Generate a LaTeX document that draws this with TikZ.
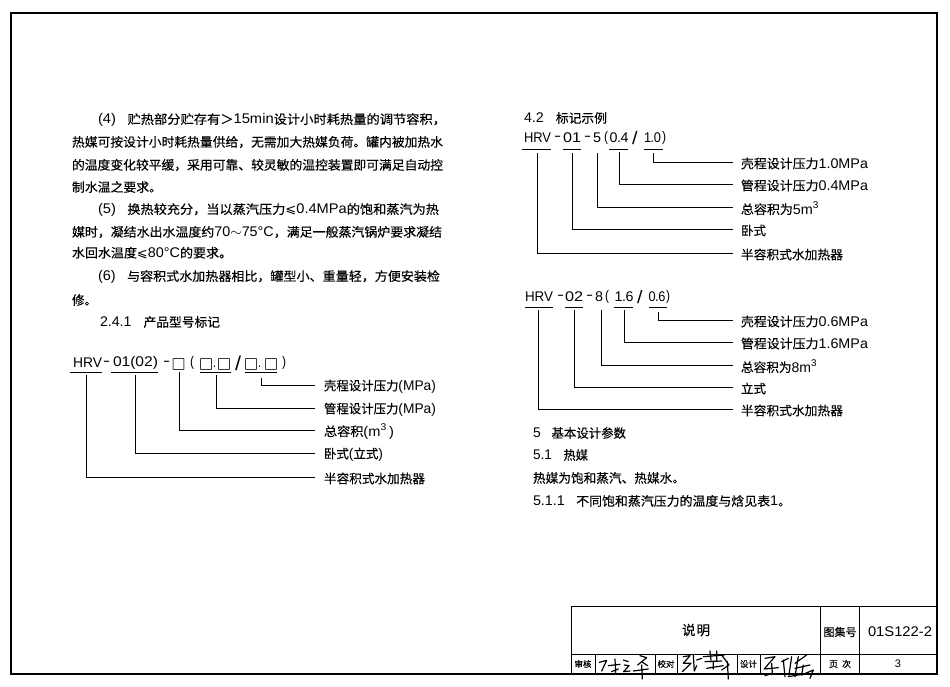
\documentclass[tikz,border=0pt]{standalone}
\usepackage{fontspec}
\setmainfont{Noto Sans CJK SC}[FakeBold=0.25]
\newfontfamily\la{Liberation Sans}
\newfontfamily\symf{DejaVu Sans}
\newcommand\lat[1]{{\fontsize{14}{14}\selectfont\la #1}}
\newcommand\slashbig[1]{{\fontsize{#1}{#1}\selectfont\la /}}
\newcommand\dnum[2]{\lat{#1\kern-0.4pt.\kern-0.4pt#2}}
\newcommand\lesq{{\symf ⩽}}
\newcommand\tl[5]{\node[txt] (#1) at (#2,#3) {\resizebox{#4pt}{\height}{#5}};}
\newcommand\lead[3]{\draw[conn] (#1) |- ([xshift=-#3pt,yshift=1.5pt]#2.west);}
\tikzset{
  txt/.style={anchor=west,inner sep=0pt,outer sep=0pt,font=\fontsize{12.6}{14}\selectfont,text=black},
  conn/.style={draw=black,line width=0.8pt},
  uline/.style={draw=black,line width=0.8pt},
  frame/.style={draw=black,line width=1.8pt},
  cell/.style={draw=black,line width=0.9pt},
  sig/.style={draw=black,line width=1.2pt,line cap=round,line join=round},
  box/.style={anchor=center,inner sep=0pt,font=\fontsize{14}{14}\selectfont}
}
\begin{document}
\begin{tikzpicture}[x=1pt,y=-1pt]
\path[use as bounding box,fill=white] (0,0) rectangle (950,687);
% page frame
\draw[frame] (11,13) rectangle (937,674);
% left text
\tl{p1}{98}{120}{348}{\lat{(4)}\hspace{11pt}贮热部分贮存有＞\lat{15min}设计小时耗热量的调节容积，}
\tl{p2}{72}{142}{371}{热媒可按设计小时耗热量供给，无需加大热媒负荷。罐内被加热水}
\tl{p3}{72}{165}{371}{的温度变化较平缓，采用可靠、较灵敏的温控装置即可满足自动控}
\tl{p4}{72}{187}{90}{制水温之要求。}
\tl{p5}{98}{210}{341}{\lat{(5)}\hspace{11pt}换热较充分，当以蒸汽压力\lesq\lat{0.4MPa}的饱和蒸汽为热}
\tl{p6}{72}{232}{370}{媒时，凝结水出水温度约\lat{70$\sim$75°C}，满足一般蒸汽锅炉要求凝结}
\tl{p7}{72}{253}{160}{水回水温度\lesq\lat{80°C}的要求。}
\tl{p8}{98}{277}{342}{\lat{(6)}\hspace{11pt}与容积式水加热器相比，罐型小、重量轻，方便安装检}
\tl{p9}{72}{300}{25}{修。}
\tl{p10}{100}{322}{120}{\lat{2.4.1}\hspace{12pt}产品型号标记}
% left model string
\tl{a1}{73}{363}{29}{\lat{HRV}}
\tl{a2}{103}{363}{7}{\lat{-}}
\tl{a3}{113}{363}{45}{\lat{01(02)}}
\tl{a4}{163}{363}{7}{\lat{-}}
\node[box] (b1) at (178.5,364) {□};
\tl{a5}{190}{363}{4}{\lat{(}}
\node[box] (b2) at (206,364) {□};
\tl{a6}{213}{367}{3}{\lat{.}}
\node[box] (b3) at (224,364) {□};
\tl{a7}{235}{363}{6}{\slashbig{20}}
\node[box] (b4) at (251,364) {□};
\tl{a8}{258}{367}{3}{\lat{.}}
\node[box] (b5) at (271,364) {□};
\tl{a9}{282}{363}{4}{\lat{)}}
\draw[uline] (70,372) -- (102,372);
\draw[uline] (111,372) -- (158,372);
\draw[uline] (200,372) -- (231,372);
\draw[uline] (245,372) -- (277,372);
% left labels
\tl{l1}{324}{386.5}{112}{壳程设计压力\lat{(MPa)}}
\tl{l2}{324}{409.5}{112}{管程设计压力\lat{(MPa)}}
\tl{l3}{324}{431.5}{70}{总容积\lat{(m\textsuperscript{3}\,)}}
\tl{l4}{324}{454.5}{59}{卧式\lat{(}立式\lat{)}}
\tl{l5}{324}{478.5}{101}{半容积式水加热器}
\coordinate (c1) at (261,378);
\coordinate (c2) at (216,375);
\coordinate (c3) at (179,372);
\coordinate (c4) at (135,375);
\coordinate (c5) at (86,375);
\lead{c1}{l1}{9}
\lead{c2}{l2}{9}
\lead{c3}{l3}{9}
\lead{c4}{l4}{9}
\lead{c5}{l5}{9}
% right top
\tl{r0}{524}{118}{83}{\lat{4.2}\hspace{12pt}标记示例}
\tl{r1a}{524}{138}{27}{\lat{HRV}}
\tl{r1b}{554}{138}{7}{\lat{-}}
\tl{r1c}{563}{138}{18}{\lat{01}}
\tl{r1d}{584}{138}{7}{\lat{-}}
\tl{r1e}{593}{138}{8}{\lat{5}}
\tl{r1f}{604}{138}{4}{\lat{(}}
\tl{r1g}{609.5}{138}{19}{\dnum{0}{4}}
\tl{r1h}{632}{138}{5.5}{\slashbig{18}}
\tl{r1i}{644}{138}{17}{\dnum{1}{0}}
\tl{r1j}{662}{138}{4}{\lat{)}}
\draw[uline] (522,149) -- (551,149);
\draw[uline] (563,149) -- (581,149);
\draw[uline] (609,149) -- (628,149);
\draw[uline] (644,149) -- (663,149);
\tl{m1}{741}{163.5}{127}{壳程设计压力\lat{1.0MPa}}
\tl{m2}{741}{185.5}{127}{管程设计压力\lat{0.4MPa}}
\tl{m3}{741}{208.5}{78}{总容积为\lat{5m\textsuperscript{3}}}
\tl{m4}{741}{230.5}{25}{卧式}
\tl{m5}{741}{254.5}{102}{半容积式水加热器}
\coordinate (d1) at (653,153);
\coordinate (d2) at (619,152);
\coordinate (d3) at (597,153);
\coordinate (d4) at (572,153);
\coordinate (d5) at (537,153);
\lead{d1}{m1}{8}
\lead{d2}{m2}{8}
\lead{d3}{m3}{8}
\lead{d4}{m4}{8}
\lead{d5}{m5}{8}
% right lower
\tl{r2a}{525}{297}{28}{\lat{HRV}}
\tl{r2b}{557}{297}{7}{\lat{-}}
\tl{r2c}{565}{297}{18}{\lat{02}}
\tl{r2d}{586}{297}{7}{\lat{-}}
\tl{r2e}{595}{297}{8}{\lat{8}}
\tl{r2f}{605}{297}{4}{\lat{(}}
\tl{r2g}{614.5}{297}{19}{\dnum{1}{6}}
\tl{r2h}{637}{297}{5.5}{\slashbig{18}}
\tl{r2i}{648.5}{297}{17}{\dnum{0}{6}}
\tl{r2j}{666}{297}{4}{\lat{)}}
\draw[uline] (525,307) -- (553,307);
\draw[uline] (565,307) -- (583,307);
\draw[uline] (614,307) -- (633,307);
\draw[uline] (649,307) -- (667,307);
\tl{n1}{741}{321.5}{127}{壳程设计压力\lat{0.6MPa}}
\tl{n2}{741}{343.5}{127}{管程设计压力\lat{1.6MPa}}
\tl{n3}{741}{366.5}{76}{总容积为\lat{8m\textsuperscript{3}}}
\tl{n4}{741}{388.5}{25}{立式}
\tl{n5}{741}{410.5}{102}{半容积式水加热器}
\coordinate (f1) at (658,312);
\coordinate (f2) at (624,310);
\coordinate (f3) at (601,310);
\coordinate (f4) at (574,310);
\coordinate (f5) at (538,310);
\lead{f1}{n1}{8}
\lead{f2}{n2}{8}
\lead{f3}{n3}{8}
\lead{f4}{n4}{8}
\lead{f5}{n5}{8}
% right text
\tl{t1}{533}{433}{93}{\lat{5}\hspace{11pt}基本设计参数}
\tl{t2}{533}{455}{55}{\lat{5.1}\hspace{12pt}热媒}
\tl{t3}{533}{478}{152}{热媒为饱和蒸汽、热媒水。}
\tl{t4}{533}{501}{258}{\lat{5.1.1}\hspace{11pt}不同饱和蒸汽压力的温度与焓见表\lat{1}。}
% title block
\draw[cell] (571,606) -- (938,606);
\draw[cell] (571,606) -- (571,674);
\draw[cell] (571,654) -- (938,654);
\draw[cell] (820,606) -- (820,674);
\draw[cell] (859,606) -- (859,674);
\foreach \X in {595,655,677,737,760}{\draw[cell] (\X,654) -- (\X,674);}
\node[box,font=\fontsize{13.5}{14}\selectfont] (h1) at (696,630) {说\hspace{1pt}明};
\node[box,font=\fontsize{11}{12}\selectfont] (h2) at (840,632) {图集号};
\node[box] (h3) at (900,632) {\resizebox{64pt}{\height}{\lat{01S122-2}}};
\node[box,font=\fontsize{9}{10}\selectfont] (h4) at (840,664) {页\hspace{4pt}次};
\node[box,font=\fontsize{11}{12}\selectfont] (h5) at (898,664) {{\la 3}};
\node[box,font=\fontsize{8.5}{10}\selectfont] (h6) at (583,664) {审核};
\node[box,font=\fontsize{8.5}{10}\selectfont] (h7) at (666,664) {校对};
\node[box,font=\fontsize{8.5}{10}\selectfont] (h8) at (748.5,664) {设计};
% signatures
\begin{scope}[shift={(565,645)},x=0.3333pt,y=-0.3333pt]
\draw[sig] (103,52) -- (125,46) -- (110,78);
\draw[sig] (130,62) -- (165,58) (150,42) -- (152,82) (140,80) -- (160,72);
\draw[sig] (175,45) -- (190,50) (178,60) -- (192,62) -- (176,80) -- (195,78);
\draw[sig] (225,32) -- (245,38) -- (218,60) (230,50) -- (248,62) (205,78) -- (250,72) (230,60) -- (232,102);
\draw[sig] (355,35) -- (375,32) -- (355,55) -- (378,55) -- (352,80) (385,30) -- (388,78) -- (395,62) (395,45) -- (410,40);
\draw[sig] (415,35) -- (478,30) (435,18) -- (438,45) (455,18) -- (455,45) (420,50) -- (470,48) (425,70) -- (475,62) (445,48) -- (445,72) (470,30) -- (492,60) -- (470,75) (487,50) -- (490,102);
\draw[sig] (600,40) -- (630,35) -- (612,55) -- (598,72) -- (640,68) (620,55) -- (622,85) -- (600,92);
\draw[sig] (650,50) -- (670,40) (655,45) -- (660,95) (680,35) -- (672,90) (690,55) -- (725,30) (700,35) -- (690,95) (690,70) -- (735,60) (715,60) -- (710,90) -- (745,75) -- (735,100) (670,95) -- (730,85);
\end{scope}
\end{tikzpicture}
\end{document}
